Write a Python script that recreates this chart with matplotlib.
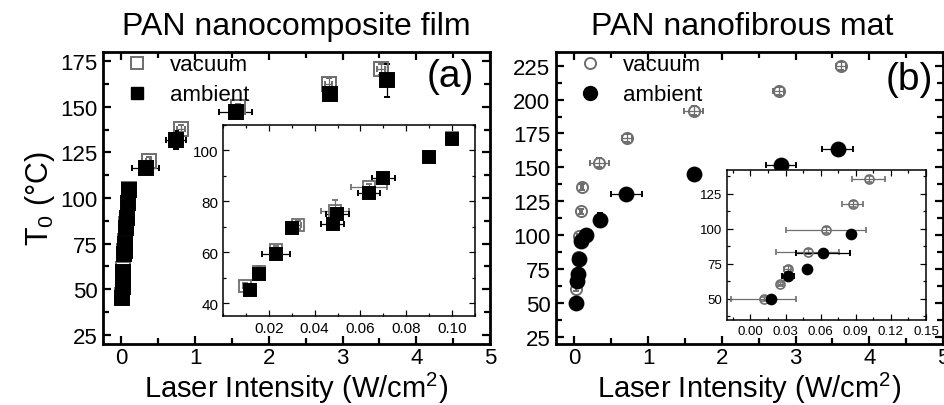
import matplotlib
matplotlib.use("Agg")
import matplotlib.pyplot as plt
from matplotlib.lines import Line2D
from matplotlib.ticker import MultipleLocator

plt.rcParams['font.family'] = ['Liberation Sans', 'DejaVu Sans']
plt.rcParams['mathtext.fontset'] = 'custom'
plt.rcParams['mathtext.rm'] = 'Liberation Sans'

# PAN nanocomposite film: laser intensity (W/cm2) vs T0 (C)
film_vac_I = [0.0097, 0.0158, 0.0232, 0.0329, 0.0489, 0.0637, 0.100, 0.37, 0.81, 1.58, 2.81, 3.52]
film_vac_T = [46.8, 52.1, 61.0, 70.7, 76.4, 85.5, 104.8, 120.4, 138.0, 149.6, 162.7, 170.5]
film_vac_xerr = [0.001, 0.001, 0.001, 0.001, 0.006, 0.008, 0.002, 0.03, 0.05, 0.05, 0.05, 0.05]
film_vac_yerr = [1, 2.5, 1.5, 1.5, 4, 1.5, 1, 2, 2, 2, 3, 3]

film_amb_I = [0.0117, 0.0158, 0.0232, 0.030, 0.0479, 0.0499, 0.0637, 0.070, 0.090, 0.100,
              0.33, 0.74, 1.55, 2.83, 3.60]
film_amb_T = [45.2, 51.3, 59.3, 69.5, 71.1, 75.0, 83.3, 89.2, 97.3, 104.6,
              116.3, 131.9, 147.2, 156.8, 164.6]
film_amb_xerr = [0.002, 0.001, 0.006, 0.001, 0.005, 0.005, 0.0048, 0.005, 0.001, 0.002,
                 0.18, 0.14, 0.22, 0.05, 0.05]
film_amb_yerr = [1, 2, 1, 1, 1, 1, 1, 1, 1, 1, 2, 5, 3, 3, 9]

# PAN nanofibrous mat
mat_vac_I = [0.0112, 0.0255, 0.0321, 0.049, 0.0648, 0.0875, 0.1012, 0.335, 0.716, 1.62, 2.77, 3.62]
mat_vac_T = [50.0, 60.7, 71.4, 83.8, 99.3, 117.6, 135.5, 153.6, 171.5, 191.9, 206.1, 225.0]
mat_vac_xerr = [0.028, 0.002, 0.003, 0.027, 0.034, 0.009, 0.014, 0.13, 0.07, 0.13, 0.07, 0.07]
mat_vac_yerr = [1.5, 1.5, 2, 1.5, 2, 2, 2, 3, 3, 3, 3, 3]

mat_amb_I = [0.0175, 0.0324, 0.048, 0.062, 0.086, 0.16, 0.344, 0.70, 1.62, 2.80, 3.57]
mat_amb_T = [50.0, 66.2, 71.4, 82.9, 96.2, 99.9, 111.4, 130.5, 145.3, 152.1, 163.7]
mat_amb_xerr = [0.002, 0.005, 0.002, 0.023, 0.002, 0.005, 0.03, 0.21, 0.05, 0.2, 0.215]
mat_amb_yerr = [1, 1, 1, 1, 1, 2, 5, 2, 2, 2, 2]

gray = '#6e6e6e'
xlab = 'Laser Intensity (W/cm$^\\mathregular{2}$)'


def style_axes(ax, lw, major_len, minor_len):
    for s in ax.spines.values():
        s.set_linewidth(lw)
    ax.tick_params(which='both', direction='in', top=True, right=True, width=lw * 0.8)
    ax.tick_params(which='major', length=major_len)
    ax.tick_params(which='minor', length=minor_len)


def draw(ax, I, T, xe, ye, marker, ms, face, edge, ew=1.4):
    ax.errorbar(I, T, xerr=xe, yerr=ye, fmt=marker, ms=ms, mfc=face, mec=edge, mew=ew,
                ecolor=edge, elinewidth=0.9, capsize=2, capthick=0.9)


def add_legend(ax, marker, ms_v, ms_a, x0):
    hv = Line2D([], [], ls='none', marker=marker, ms=ms_v, mfc='none', mec=gray, mew=1.4)
    ha = Line2D([], [], ls='none', marker=marker, ms=ms_a, mfc='black', mec='black')
    ax.legend([hv, ha], ['vacuum', 'ambient'], loc='upper left', frameon=False, fontsize=16,
              handletextpad=0.9, borderaxespad=0.0, labelspacing=0.4, handlelength=1.2,
              bbox_to_anchor=(x0, 1.022))


def finish_main(ax, title, tag, tag_x, tag_y):
    ax.set_xlim(-0.25, 5)
    ax.xaxis.set_major_locator(MultipleLocator(1))
    ax.xaxis.set_minor_locator(MultipleLocator(0.5))
    ax.yaxis.set_major_locator(MultipleLocator(25))
    ax.yaxis.set_minor_locator(MultipleLocator(12.5))
    style_axes(ax, 2.0, 6, 4)
    ax.tick_params(labelsize=16, pad=4)
    ax.tick_params(axis='x', pad=2.5)
    ax.set_title(title, fontsize=23, pad=13)
    ax.set_xlabel(xlab, fontsize=21, va='baseline')
    ax.xaxis.set_label_coords(0.5, -0.1815)
    ax.text(tag_x, tag_y, tag, transform=ax.transAxes, ha='right', va='center', fontsize=28)


fig = plt.figure(figsize=(9.44, 4.06), dpi=100)

# ---- (a) film ----
axa = fig.add_axes([103 / 944, 61 / 406, 387 / 944, 292 / 406])
draw(axa, film_vac_I, film_vac_T, film_vac_xerr, film_vac_yerr, 's', 9.5, 'none', gray)
draw(axa, film_amb_I, film_amb_T, film_amb_xerr, film_amb_yerr, 's', 9.5, 'black', 'black')
axa.set_ylim(20, 180)
finish_main(axa, 'PAN nanocomposite film', '(a)', 0.958, 0.918)
axa.set_ylabel('T$_\\mathregular{0}$ (\u00b0C)', fontsize=22, labelpad=2)
add_legend(axa, 's', 9, 9, 0.03)

ia = fig.add_axes([223 / 944, 89 / 406, 252 / 944, 191 / 406])
draw(ia, film_vac_I, film_vac_T, film_vac_xerr, film_vac_yerr, 's', 8, 'none', gray, 1.3)
draw(ia, film_amb_I, film_amb_T, film_amb_xerr, film_amb_yerr, 's', 8, 'black', 'black')
ia.set_xlim(0.0, 0.11)
ia.set_ylim(35, 110)
ia.set_xticks([0.02, 0.04, 0.06, 0.08, 0.10])
ia.set_xticklabels(['0.02', '0.04', '0.06', '0.08', '0.10'])
ia.xaxis.set_minor_locator(MultipleLocator(0.01))
ia.yaxis.set_major_locator(MultipleLocator(20))
ia.yaxis.set_minor_locator(MultipleLocator(10))
style_axes(ia, 1.1, 4, 2.5)
ia.tick_params(labelsize=11)

# ---- (b) mat ----
axb = fig.add_axes([556 / 944, 61 / 406, 387 / 944, 292 / 406])
draw(axb, mat_vac_I, mat_vac_T, mat_vac_xerr, mat_vac_yerr, 'o', 8, 'none', gray)
draw(axb, mat_amb_I, mat_amb_T, mat_amb_xerr, mat_amb_yerr, 'o', 10, 'black', 'black')
axb.set_ylim(20, 235)
finish_main(axb, 'PAN nanofibrous mat', '(b)', 0.975, 0.908)
axb.title.set_x(0.482)
add_legend(axb, 'o', 8, 10, 0.03)

ib = fig.add_axes([727 / 944, 85 / 406, 199 / 944, 150 / 406])
draw(ib, mat_vac_I, mat_vac_T, mat_vac_xerr, mat_vac_yerr, 'o', 6.5, 'none', gray, 1.2)
draw(ib, mat_amb_I, mat_amb_T, mat_amb_xerr, mat_amb_yerr, 'o', 7, 'black', 'black')
ib.set_xlim(-0.02, 0.15)
ib.set_ylim(35, 142)
ib.set_xticks([0.0, 0.03, 0.06, 0.09, 0.12, 0.15])
ib.set_xticklabels(['0.00', '0.03', '0.06', '0.09', '0.12', '0.15'])
ib.xaxis.set_minor_locator(MultipleLocator(0.015))
ib.yaxis.set_major_locator(MultipleLocator(25))
ib.yaxis.set_minor_locator(MultipleLocator(12.5))
style_axes(ib, 1.1, 4, 2.5)
ib.tick_params(labelsize=9.5)

fig.savefig('out.png', dpi=100)
